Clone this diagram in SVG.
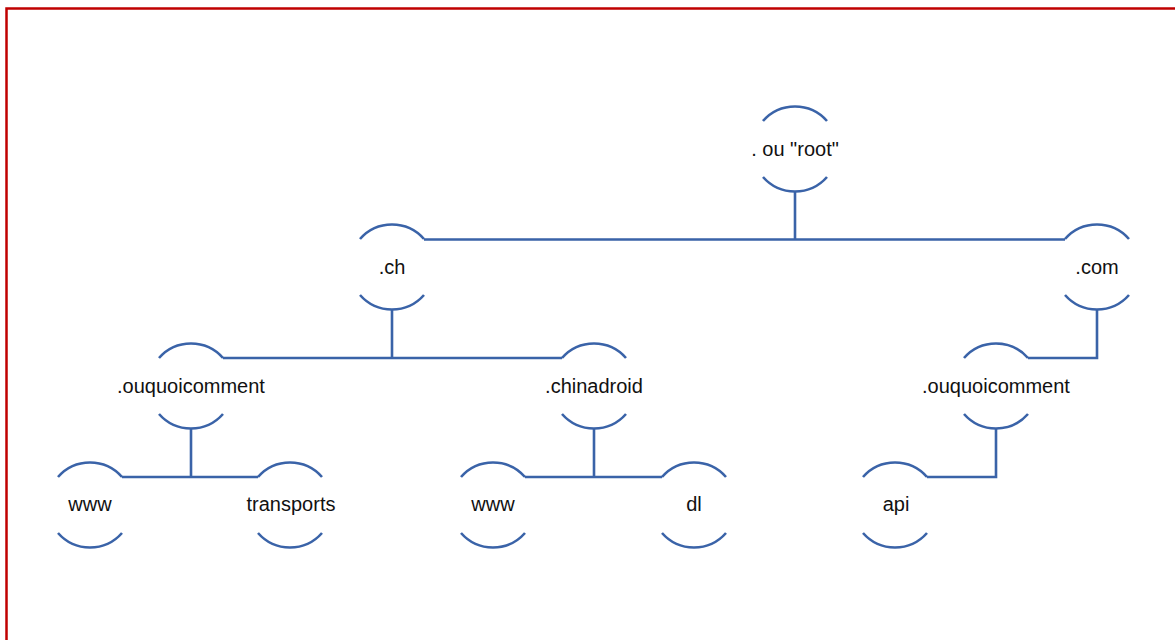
<svg xmlns="http://www.w3.org/2000/svg" width="1175" height="640" viewBox="0 0 1175 640">
<style>
.arc{fill:none;stroke:#3A63A8;stroke-width:2.6}
.ln{fill:none;stroke:#3A63A8;stroke-width:2.6}
text{font-family:"Liberation Sans",Arial,sans-serif;font-size:20px;fill:#111;text-anchor:middle}
</style>
<defs>
<g id="bub">
<path class="arc" d="M-32,-28 A42.6,42.6 0 0 1 32,-28"/>
<path class="arc" d="M-32,28 A42.6,42.6 0 0 0 32,28"/>
</g>
</defs>
<rect x="0" y="0" width="1175" height="640" fill="#fff"/>
<path d="M6.5,640 V8.5 H1175" fill="none" stroke="#C00000" stroke-width="2.5"/>
<g id="connectors">
<path class="ln" d="M795,191 V239.5 M424,239.5 H1065"/>
<path class="ln" d="M1097,309 V358 H1028"/>
<path class="ln" d="M392,309 V358 M223,358 H562"/>
<path class="ln" d="M191,428 V477 M122,477 H258"/>
<path class="ln" d="M594,428 V477 M525,477 H662"/>
<path class="ln" d="M996,428 V477 H927"/>
</g>
<g id="root"><use href="#bub" x="795" y="149"/><text x="795" y="156">. ou "root"</text></g>
<g id="ch"><use href="#bub" x="392" y="267"/><text x="392" y="274">.ch</text></g>
<g id="com"><use href="#bub" x="1097" y="267"/><text x="1097" y="274">.com</text></g>
<g id="ouquoicomment-ch"><use href="#bub" x="191" y="386"/><text x="191" y="393">.ouquoicomment</text></g>
<g id="chinadroid"><use href="#bub" x="594" y="386"/><text x="594" y="393">.chinadroid</text></g>
<g id="ouquoicomment-com"><use href="#bub" x="996" y="386"/><text x="996" y="393">.ouquoicomment</text></g>
<g id="www1"><use href="#bub" x="90" y="505"/><text x="90" y="511">www</text></g>
<g id="transports"><use href="#bub" x="290" y="505"/><text x="291" y="511">transports</text></g>
<g id="www2"><use href="#bub" x="493" y="505"/><text x="493" y="511">www</text></g>
<g id="dl"><use href="#bub" x="694" y="505"/><text x="694" y="511">dl</text></g>
<g id="api"><use href="#bub" x="895" y="505"/><text x="896" y="511">api</text></g>
</svg>
